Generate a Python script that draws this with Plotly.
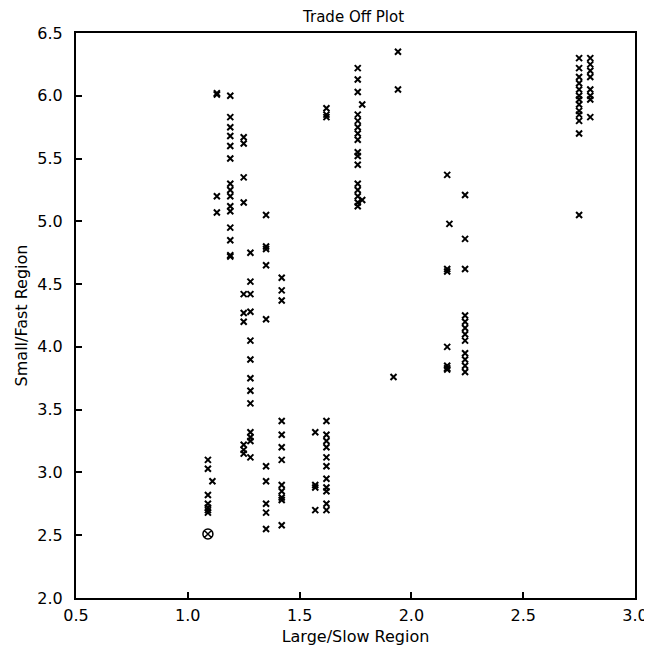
import plotly.graph_objects as go

# Trade-off data: (Large/Slow value, list of Small/Fast values)
col_x = [1.09, 1.11, 1.13, 1.19, 1.25, 1.28, 1.35, 1.42, 1.57, 1.62, 1.76, 1.78, 1.94, 1.92, 2.16, 2.17, 2.24, 2.75, 2.80]
col_y = [
    [3.10, 3.03, 2.82, 2.75, 2.72, 2.70, 2.68],
    [2.93],
    [6.02, 6.01, 5.20, 5.07],
    [6.00, 5.83, 5.75, 5.68, 5.60, 5.50, 5.30, 5.25, 5.20, 5.12, 5.08, 4.95, 4.85, 4.73, 4.72],
    [5.67, 5.62, 5.35, 5.15, 4.42, 4.27, 4.20, 3.22, 3.18, 3.15],
    [4.75, 4.52, 4.42, 4.28, 4.05, 3.90, 3.75, 3.65, 3.55, 3.32, 3.28, 3.25, 3.12],
    [5.05, 4.80, 4.78, 4.65, 4.22, 3.05, 2.93, 2.75, 2.68, 2.55],
    [4.55, 4.45, 4.37, 3.41, 3.30, 3.20, 3.10, 2.90, 2.85, 2.80, 2.78, 2.58],
    [3.32, 2.90, 2.88, 2.70],
    [5.90, 5.85, 5.83, 3.41, 3.30, 3.25, 3.20, 3.12, 3.05, 2.95, 2.88, 2.85, 2.75, 2.70],
    [6.22, 6.13, 6.03, 5.85, 5.80, 5.75, 5.70, 5.65, 5.55, 5.52, 5.45, 5.30, 5.25, 5.20, 5.15, 5.12],
    [5.93, 5.17],
    [6.35, 6.05],
    [3.76],
    [5.37, 4.62, 4.60, 4.00, 3.85, 3.83, 3.82],
    [4.98],
    [5.21, 4.86, 4.62, 4.25, 4.20, 4.15, 4.10, 4.05, 3.95, 3.90, 3.85, 3.80],
    [6.30, 6.22, 6.15, 6.10, 6.05, 6.00, 5.97, 5.93, 5.88, 5.85, 5.80, 5.70, 5.05],
    [6.30, 6.25, 6.20, 6.15, 6.05, 6.00, 5.97, 5.83],
]
marked_x = [1.09]
marked_y = [2.51]

xs, ys = [], []
for cx, cys in zip(col_x, col_y):
    for v in cys:
        xs.append(cx)
        ys.append(v)

x_ticks = [0.5, 1.0, 1.5, 2.0, 2.5, 3.0]
y_ticks = [2.0, 2.5, 3.0, 3.5, 4.0, 4.5, 5.0, 5.5, 6.0, 6.5]

font = "DejaVu Sans"
fig = go.Figure()
fig.add_trace(go.Scatter(x=xs, y=ys, mode="markers",
                         marker=dict(symbol="x-thin", size=6, color="black",
                                     line=dict(width=2, color="black")),
                         showlegend=False))
fig.add_trace(go.Scatter(x=marked_x, y=marked_y, mode="markers",
                         marker=dict(symbol="circle-x-open", size=10, color="black",
                                     line=dict(width=1.5, color="black")),
                         showlegend=False))

axis_common = dict(showgrid=False, zeroline=False, showline=True, linecolor="black",
                   linewidth=2, mirror=True, ticks="inside", ticklen=6, tickwidth=1.5,
                   tickcolor="black", tickfont=dict(family=font, size=16, color="black"))
fig.update_xaxes(range=[0.5, 3.0], tickvals=x_ticks, ticktext=[f"{t:.1f}" for t in x_ticks],
                 ticklabelstandoff=2,
                 title=dict(text="Large/Slow Region", font=dict(family=font, size=16, color="black"),
                            standoff=7), **axis_common)
fig.update_yaxes(range=[2.0, 6.5], tickvals=y_ticks, ticktext=[f"{t:.1f}" for t in y_ticks],
                 ticklabelstandoff=8,
                 title=dict(text="Small/Fast Region", font=dict(family=font, size=16, color="black"),
                            standoff=6), **axis_common)
fig.update_layout(
    width=652, height=655,
    margin=dict(l=60, r=20, t=25, b=65),
    paper_bgcolor="white", plot_bgcolor="white",
    title=dict(text="Trade Off Plot", x=0.53, xanchor="center", yref="container", y=0.986,
               yanchor="middle", pad=dict(t=0, b=0),
               font=dict(family=font, size=15, color="black")),
)
fig.write_html("out.html")
